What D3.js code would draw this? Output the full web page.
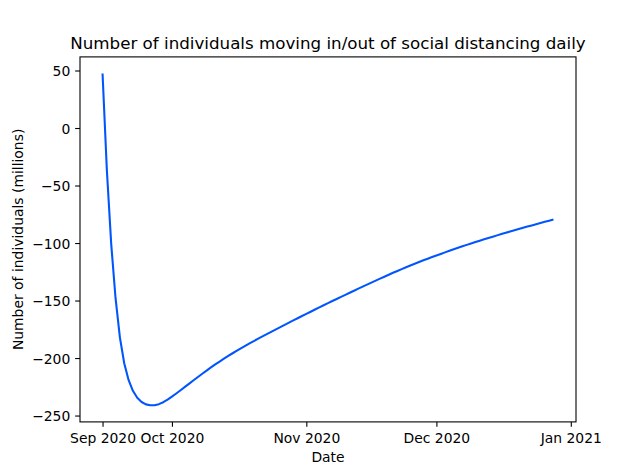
<!DOCTYPE html>
<html>
<head>
<meta charset="utf-8">
<script src="https://cdn.jsdelivr.net/npm/d3@7"></script>
<style>
html, body { margin: 0; padding: 0; background: #fff; }
svg { display: block; }
text { font-family: "DejaVu Sans", sans-serif; fill: #000; }
</style>
</head>
<body>
<svg id="chart" width="640" height="474"></svg>
<script>
// ---- data ----
const startDate = "2020-09-15";
const dailyValues = [
  47.4, -37.0, -101.0, -148.0, -182.0, -204.5, -219.0, -228.5, -234.5, -238.2,
  -240.3, -241.1, -241.0, -240.1, -238.4, -236.2, -233.6, -230.85, -228.0, -225.1,
  -222.2, -219.3, -216.45, -213.65, -210.9, -208.2, -205.58, -203.03, -200.56, -198.16,
  -195.84, -193.59, -191.41, -189.21, -187.08, -185.0, -182.96, -180.95, -178.96, -176.99,
  -175.03, -173.08, -171.14, -169.21, -167.29, -165.38, -163.48, -161.59, -159.71, -157.84,
  -155.98, -154.13, -152.29, -150.46, -148.64, -146.83, -145.03, -143.24, -141.46, -139.69,
  -137.93, -136.18, -134.44, -132.71, -130.99, -129.28, -127.58, -125.91, -124.27, -122.66,
  -121.08, -119.53, -118.01, -116.52, -115.06, -113.63, -112.23, -110.86, -109.48, -108.12,
  -106.78, -105.46, -104.16, -102.88, -101.62, -100.38, -99.16, -97.96, -96.78, -95.62,
  -94.48, -93.35, -92.23, -91.12, -90.02, -88.93, -87.85, -86.78, -85.72, -84.67,
  -83.63, -82.6, -81.58, -80.57, -79.57
];
const xTickDates = ["2020-09-15", "2020-10-01", "2020-11-01", "2020-12-01", "2021-01-01"];
const xTickLabels = ["Sep 2020", "Oct 2020", "Nov 2020", "Dec 2020", "Jan 2021"];
const yTickValues = [-250, -200, -150, -100, -50, 0, 50];
const titleText = "Number of individuals moving in/out of social distancing daily";
const xLabelText = "Date";
const yLabelText = "Number of individuals (millions)";

// ---- layout ----
const W = 640, H = 474;
const mLeft = 80, mRight = 576, mTop = 56.9, mBottom = 421.9;
const DAY = 86400000;
const parse = d3.utcParse("%Y-%m-%d");
const t0 = parse(startDate);
const data = dailyValues.map((v, i) => ({ date: new Date(t0.getTime() + i * DAY), value: v }));

const xExt = d3.extent(data, d => d.date.getTime());
const xPad = (xExt[1] - xExt[0]) * 0.05;
const x = d3.scaleUtc()
  .domain([new Date(xExt[0] - xPad), new Date(xExt[1] + xPad)])
  .range([mLeft, mRight]);

const yExt = d3.extent(data, d => d.value);
const yPad = (yExt[1] - yExt[0]) * 0.05;
const y = d3.scaleLinear()
  .domain([yExt[0] - yPad, yExt[1] + yPad])
  .range([mBottom, mTop]);

const svg = d3.select("#chart");
svg.append("rect").attr("width", W).attr("height", H).attr("fill", "#fff");

// line
const line = d3.line().x(d => x(d.date)).y(d => y(d.value));
svg.append("path")
  .datum(data)
  .attr("fill", "none")
  .attr("stroke", "#0055ff")
  .attr("stroke-width", 2.08)
  .attr("stroke-linejoin", "round")
  .attr("stroke-linecap", "butt")
  .attr("d", line);

// x axis
const xTickMap = new Map(xTickDates.map((d, i) => [parse(d).getTime(), xTickLabels[i]]));
const xAxis = d3.axisBottom(x)
  .tickValues(xTickDates.map(parse))
  .tickFormat(d => xTickMap.get(d.getTime()))
  .tickSize(4.86)
  .tickPadding(4.86);
const gx = svg.append("g").attr("transform", `translate(0,${mBottom})`).call(xAxis);
gx.select(".domain").remove();
gx.selectAll(".tick line").attr("stroke", "#000").attr("stroke-width", 1.1);
gx.selectAll(".tick text")
  .attr("font-size", "13.9px")
  .attr("font-family", "DejaVu Sans, sans-serif")
  .attr("fill", "#000")
  .attr("dy", null)
  .attr("y", 21.6);

// y axis
const yAxis = d3.axisLeft(y)
  .tickValues(yTickValues)
  .tickFormat(d => d < 0 ? "\u2212" + Math.abs(d) : String(d))
  .tickSize(4.86)
  .tickPadding(4.86);
const gy = svg.append("g").attr("transform", `translate(${mLeft},0)`).call(yAxis);
gy.select(".domain").remove();
gy.selectAll(".tick line").attr("stroke", "#000").attr("stroke-width", 1.1);
gy.selectAll(".tick text")
  .attr("font-size", "13.9px")
  .attr("font-family", "DejaVu Sans, sans-serif")
  .attr("fill", "#000")
  .attr("dy", "0.36em");

// spines
svg.append("rect")
  .attr("x", mLeft).attr("y", mTop)
  .attr("width", mRight - mLeft).attr("height", mBottom - mTop)
  .attr("fill", "none").attr("stroke", "#000").attr("stroke-width", 1.1);

// title
svg.append("text")
  .attr("x", (mLeft + mRight) / 2).attr("y", 48.6)
  .attr("text-anchor", "middle")
  .attr("font-size", "16.7px")
  .text(titleText);

// x label
svg.append("text")
  .attr("x", (mLeft + mRight) / 2).attr("y", 461.5)
  .attr("text-anchor", "middle")
  .attr("font-size", "13.9px")
  .text(xLabelText);

// y label
svg.append("text")
  .attr("transform", `translate(23,${(mTop + mBottom) / 2}) rotate(-90)`)
  .attr("text-anchor", "middle")
  .attr("font-size", "13.9px")
  .text(yLabelText);
</script>
</body>
</html>
